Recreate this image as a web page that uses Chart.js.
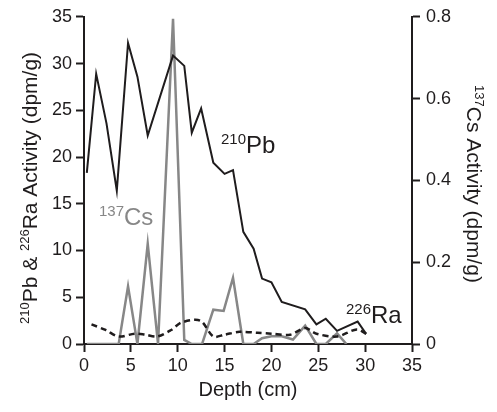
<!DOCTYPE html>
<html lang="en">
<head>
    <meta charset="UTF-8">
    <title>Pb / Cs / Ra activity vs depth</title>
    <script src="https://cdn.jsdelivr.net/npm/chart.js@4.4.1/dist/chart.umd.min.js"></script>
    <style>
        body { margin: 0; background: #fff; }
    </style>
</head>
<body>
    <canvas id="chart" width="497" height="412"></canvas>
    <script>
        // values
        const pbDepth = [0.3, 1.3, 2.4, 3.5, 4.7, 5.7, 6.8, 9.5, 10.7, 11.5, 12.5, 13.8, 15.0, 15.9, 17.0, 18.1, 19.0, 20.0, 21.1, 23.6, 24.8, 25.8, 27.0, 29.2, 30.1];
        const pbVals  = [18.3, 28.9, 23.6, 16.4, 32.2, 28.6, 22.3, 30.85, 29.75, 22.6, 25.2, 19.4, 18.2, 18.6, 12.0, 10.2, 7.0, 6.6, 4.5, 3.7, 2.1, 2.7, 1.4, 2.4, 1.1];

        const raDepth = [0.8, 2.3, 3.7, 5.4, 6.5, 7.8, 9.3, 10.4, 12.4, 13.8, 15.0, 16.6, 18.5, 20.0, 22.0, 23.6, 24.8, 27.0, 29.1, 30.2];
        const raVals  = [2.1, 1.5, 0.8, 1.1, 1.0, 0.8, 1.5, 2.3, 2.5, 0.8, 1.0, 1.3, 1.2, 1.1, 1.0, 1.7, 1.1, 0.8, 1.55, 1.05];

        const csDepth = [0.3, 3.7, 4.7, 5.7, 6.8, 7.9, 9.5, 10.7, 11.5, 12.6, 13.8, 14.9, 15.9, 17.0, 18.1, 19.0, 20.0, 21.1, 22.3, 23.6, 24.8, 25.8, 27.0, 28.0];
        const csVals  = [0, 0, 0.141, 0, 0.245, 0, 0.795, 0.01, 0, 0, 0.084, 0.081, 0.162, 0, 0, 0.014, 0.019, 0.019, 0.011, 0.045, 0, 0, 0.026, 0];

        const depthTicks = [0, 5, 10, 15, 20, 25, 30, 35];

        const ink = '#1f1c1d';
        const grey = '#878787';
        const fam = '"Liberation Sans", Arial, sans-serif';

        const pts = (xs, ys) => xs.map((x, i) => ({ x: x, y: ys[i] }));

        // text with superscript parts, e.g. [['210', true], ['Pb', false]]
        function richWidth(ctx, parts, size) {
            let w = 0;
            parts.forEach(p => {
                ctx.font = (p[1] ? Math.round(size * 0.62) : size) + 'px ' + fam;
                w += ctx.measureText(p[0]).width;
            });
            return w;
        }
        function drawRich(ctx, parts, x, y, size, color) {
            ctx.fillStyle = color;
            ctx.textBaseline = 'alphabetic';
            ctx.textAlign = 'left';
            let cx = x;
            parts.forEach(p => {
                const s = p[1] ? Math.round(size * 0.62) : size;
                ctx.font = s + 'px ' + fam;
                ctx.fillText(p[0], cx, p[1] ? y - size * 0.36 : y);
                cx += ctx.measureText(p[0]).width;
            });
        }

        const labels = {
            id: 'labels',
            afterDraw(chart) {
                const ctx = chart.ctx;
                ctx.save();
                drawRich(ctx, [['210', true], ['Pb', false]], 221, 153, 24, ink);
                drawRich(ctx, [['137', true], ['Cs', false]], 99, 225, 24, grey);
                drawRich(ctx, [['226', true], ['Ra', false]], 346, 323, 24, ink);

                // left axis title
                const lt = [['210', true], ['Pb & ', false], ['226', true], ['Ra Activity (dpm/g)', false]];
                let w = richWidth(ctx, lt, 21);
                ctx.save();
                ctx.translate(37, 188);
                ctx.rotate(-Math.PI / 2);
                drawRich(ctx, lt, -w / 2, 0, 21, ink);
                ctx.restore();

                // right axis title
                const rt = [['137', true], ['Cs Activity (dpm/g)', false]];
                w = richWidth(ctx, rt, 21);
                ctx.save();
                ctx.translate(467, 184);
                ctx.rotate(Math.PI / 2);
                drawRich(ctx, rt, -w / 2, 0, 21, ink);
                ctx.restore();

                // x axis title
                ctx.font = '20px ' + fam;
                ctx.fillStyle = ink;
                ctx.textAlign = 'center';
                ctx.textBaseline = 'alphabetic';
                ctx.fillText('Depth (cm)', 248, 396);
                ctx.restore();
            }
        };

        const axisLook = {
            grid: { drawOnChartArea: false, tickLength: 8, tickWidth: 2, tickColor: ink },
            border: { color: ink, width: 2 },
        };

        new Chart(document.getElementById('chart'), {
            type: 'line',
            data: {
                datasets: [
                    {
                        label: '210Pb',
                        data: pts(pbDepth, pbVals),
                        yAxisID: 'y',
                        borderColor: ink,
                        borderWidth: 2,
                        pointRadius: 0,
                        tension: 0
                    },
                    {
                        label: '226Ra',
                        data: pts(raDepth, raVals),
                        yAxisID: 'y',
                        borderColor: ink,
                        borderWidth: 2.5,
                        borderDash: [6, 4],
                        pointRadius: 0,
                        tension: 0.3
                    },
                    {
                        label: '137Cs',
                        data: pts(csDepth, csVals),
                        yAxisID: 'y2',
                        borderColor: grey,
                        borderWidth: 2.5,
                        pointRadius: 0,
                        tension: 0
                    }
                ]
            },
            options: {
                responsive: false,
                animation: false,
                layout: { padding: { top: 15, left: 0, right: 0, bottom: 0 } },
                plugins: { legend: { display: false }, tooltip: { enabled: false } },
                scales: {
                    x: Object.assign({
                        type: 'linear',
                        min: 0, max: 35,
                        afterBuildTicks: s => { s.ticks = depthTicks.map(v => ({ value: v })); },
                        afterFit: s => { s.height = 68; },
                        ticks: { color: ink, font: { size: 18, family: fam }, padding: 3, maxRotation: 0 }
                    }, axisLook),
                    y: Object.assign({
                        position: 'left',
                        min: 0, max: 35,
                        afterFit: s => { s.width = 84; },
                        ticks: { stepSize: 5, color: ink, font: { size: 18, family: fam }, padding: 4 }
                    }, axisLook),
                    y2: Object.assign({
                        position: 'right',
                        min: 0, max: 0.8,
                        afterFit: s => { s.width = 85; },
                        ticks: {
                            stepSize: 0.2, color: ink, font: { size: 18, family: fam }, padding: 6,
                            callback: v => v === 0 ? '0' : v.toFixed(1)
                        }
                    }, axisLook)
                }
            },
            plugins: [labels]
        });
    </script>
</body>
</html>
